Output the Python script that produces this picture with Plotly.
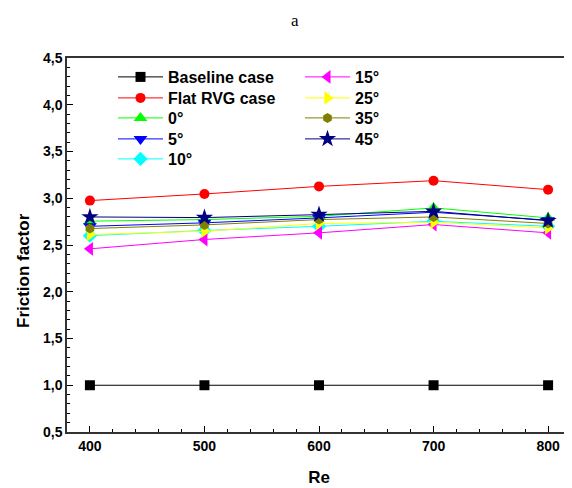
import plotly.graph_objects as go

re_vals = [400, 500, 600, 700, 800]
baseline = [1.0, 1.0, 1.0, 1.0, 1.0]
flat_rvg = [2.975, 3.046, 3.127, 3.188, 3.092]
a0 = [2.755, 2.772, 2.807, 2.897, 2.79]
a5 = [2.70, 2.737, 2.79, 2.85, 2.765]
a10 = [2.60, 2.655, 2.70, 2.754, 2.70]
a15 = [2.459, 2.559, 2.63, 2.719, 2.63]
a25 = [2.612, 2.648, 2.73, 2.743, 2.683]
a35 = [2.676, 2.715, 2.772, 2.80, 2.73]
a45 = [2.80, 2.793, 2.825, 2.86, 2.76]

series = [
    ("Baseline case", baseline, "black", "square"),
    ("Flat RVG case", flat_rvg, "red", "circle"),
    ("0°", a0, "#00ff00", "triangle-up"),
    ("5°", a5, "blue", "triangle-down"),
    ("10°", a10, "cyan", "diamond"),
    ("15°", a15, "magenta", "triangle-left"),
    ("25°", a25, "yellow", "triangle-right"),
    ("35°", a35, "olive", "hexagon"),
    ("45°", a45, "navy", "star"),
]

# page-pixel geometry (browser body has 8px margin)
OFF = 8
L, R, T, B = 67, 571, 58, 432
W, H = 564, 480

def px_x(p):
    return (p - L) / (R - L)

def px_y(p):
    return (B - p) / (B - T)

leg_rows = [77, 98, 118, 139, 159]
leg_cols = [113, 300]

fig = go.Figure()
for i, (name, vals, color, sym) in enumerate(series):
    size = 10
    if sym.startswith("triangle"):
        size = 12
    if sym == "star":
        size = 13
    if sym == "diamond":
        size = 11
    lg = "legend" if i == 0 else f"legend{i + 1}"
    fig.add_trace(go.Scatter(
        x=re_vals, y=vals, name=name, mode="lines+markers",
        line=dict(color=color, width=1),
        marker=dict(symbol=sym, size=size, color=color, line=dict(width=0)),
        legend=lg,
    ))

leg_font = dict(family="Arial", size=16, color="black", weight="bold")
legends = {}
for i in range(len(series)):
    col = 0 if i < 5 else 1
    row = i if i < 5 else i - 5
    key = "legend" if i == 0 else f"legend{i + 1}"
    legends[key] = dict(
        x=px_x(leg_cols[col]), y=px_y(leg_rows[row]),
        xanchor="left", yanchor="middle",
        font=leg_font, bgcolor="rgba(0,0,0,0)", borderwidth=0,
        itemsizing="trace", itemwidth=45,
    )

tick_font = dict(family="Arial", size=14, color="black", weight="bold")
title_font = dict(family="Arial", size=17, color="black", weight="bold")

fig.update_layout(
    width=W, height=H,
    margin=dict(l=L - OFF, r=(OFF + W) - R, t=T - OFF, b=(OFF + H) - B, autoexpand=False),
    plot_bgcolor="white", paper_bgcolor="white",
    showlegend=True,
    annotations=[
        dict(text="a", x=px_x(295), xref="paper", y=px_y(9), yref="paper",
             xanchor="center", yanchor="top", showarrow=False,
             font=dict(family="Liberation Serif, Times New Roman, serif", size=17, color="black")),
        dict(text="Friction factor", textangle=-90, x=px_x(23), xref="paper",
             y=px_y(271), yref="paper", xanchor="center", yanchor="middle",
             showarrow=False, font=title_font),
    ],
    separators=", ",
    **legends,
)

fig.update_xaxes(
    range=[380, 820], tickvals=re_vals, ticktext=[str(v) for v in re_vals],
    ticks="inside", ticklen=6, tickwidth=1, tickcolor="black",
    minor=dict(ticks="inside", ticklen=3, dtick=20, tickcolor="black", tick0=400),
    showline=True, linecolor="#333333", linewidth=1.5, mirror=True,
    showgrid=False, zeroline=False, automargin=False,
    tickfont=tick_font,
    title=dict(text="Re", font=title_font, standoff=19),
)
fig.update_yaxes(
    range=[0.5, 4.5], dtick=0.5, tick0=0.5, tickformat=".1f",
    ticks="inside", ticklen=6, tickwidth=1, tickcolor="black",
    minor=dict(ticks="inside", ticklen=3, dtick=0.1, tickcolor="black"),
    showline=True, linecolor="#333333", linewidth=1.5, mirror=True,
    showgrid=False, zeroline=False, automargin=False,
    tickfont=tick_font,
)

fig.write_html("out.html")
